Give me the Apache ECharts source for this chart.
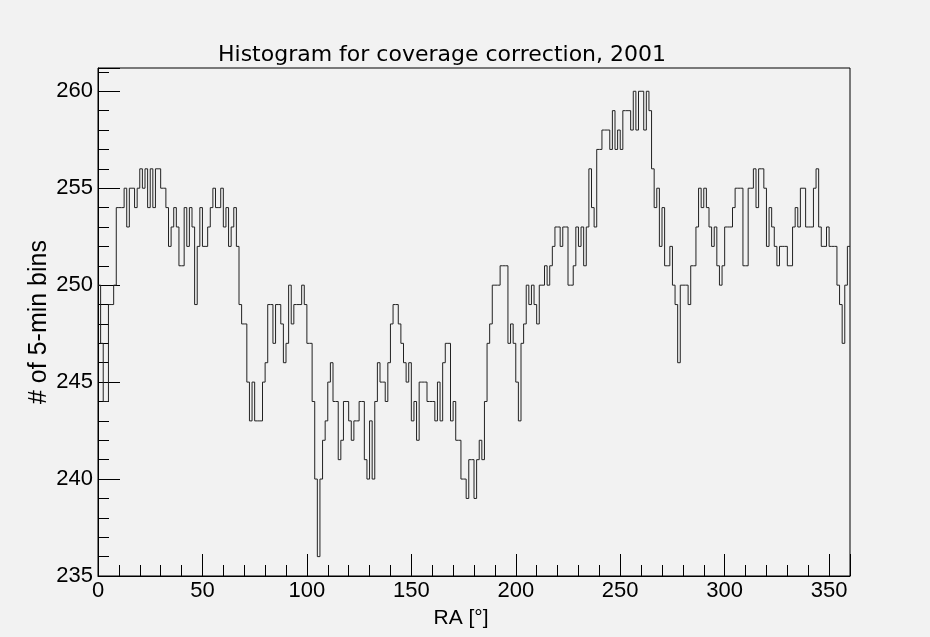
<!DOCTYPE html>
<html><head><meta charset="utf-8">
<script src="https://cdn.jsdelivr.net/npm/echarts@6/dist/echarts.min.js"></script>
<style>html,body{margin:0;padding:0;background:#f2f2f2}#c{width:930px;height:637px}</style>
</head><body><div id="c"></div>
<script>
const chartTitle = 'Histogram for coverage correction, 2001';
const xAxisName = 'RA [°]';
const yAxisName = '# of 5-min bins';
const raMin = 0, raMax = 360, nBins = 288;
const xTickStep = 50;
const yMin = 235, yMax = 261.2, yTickStep = 5;
const counts = [
  250,247,244,244,249,249,250,254,
  254,254,255,253,255,255,254,255,256,255,256,254,256,254,256,256,255,255,254,252,
  253,254,253,251,251,254,252,254,253,249,252,254,252,252,253,254,255,254,254,255,253,254,252,253,254,252,249,248,
  248,245,243,245,243,243,243,245,246,249,249,247,249,249,248,246,247,250,248,249,249,249,250,249,247,247,244,240,
  236,240,242,243,245,246,244,244,241,242,244,244,243,242,243,243,244,244,241,240,243,240,244,246,245,245,244,246,
  248,249,249,248,247,246,245,246,243,244,242,245,245,245,244,244,244,243,245,243,246,247,247,243,244,242,242,240,
  240,239,241,241,239,241,242,241,244,247,248,250,250,250,251,251,251,247,248,247,245,243,247,248,250,249,250,249,
  248,250,250,251,250,251,252,253,253,252,253,253,250,250,251,253,252,253,251,253,256,254,253,257,257,258,258,258,
  257,259,257,258,257,259,259,259,258,260,258,260,260,258,260,259,256,254,255,252,254,251,251,252,250,249,246,250,
  250,250,249,251,251,253,255,254,255,254,253,252,253,251,250,251,253,253,253,254,255,255,255,251,251,255,255,256,
  254,256,256,255,252,254,253,252,251,252,252,252,251,251,253,254,253,255,255,253,253,253,255,256,253,252,252,253,252,252,252,250,249,247,250,252
];

const binWidth = (raMax - raMin) / nBins;
const stepData = counts.map((v, i) => [raMin + i * binWidth, v]);
stepData.push([raMax, counts[counts.length - 1]]);

const font = 'Liberation Sans, Arial, sans-serif';
const chart = echarts.init(document.getElementById('c'), null, {renderer: 'canvas'});
chart.setOption({
  animation: false,
  backgroundColor: '#f2f2f2',
  title: {
    text: chartTitle, left: 213, top: 39,
    textStyle: {fontFamily: 'DejaVu Sans, sans-serif', fontSize: 22, fontWeight: 'normal', color: '#000'}
  },
  grid: {left: 98, right: 80, top: 68, bottom: 61, show: true, borderColor: '#000', borderWidth: 1, backgroundColor: 'transparent'},
  xAxis: {
    type: 'value', min: raMin, max: raMax, interval: xTickStep,
    name: xAxisName, nameLocation: 'middle', nameGap: 32, nameMoveOverlap: false,
    nameTextStyle: {fontFamily: font, fontSize: 21, color: '#000', padding: [0, 26, 0, 0]},
    axisLine: {show: true, lineStyle: {color: '#000', width: 1}},
    axisTick: {show: true, inside: true, length: 22, lineStyle: {color: '#000', width: 1}},
    minorTick: {show: true, splitNumber: 5, length: 11, lineStyle: {color: '#000', width: 1}},
    axisLabel: {fontFamily: font, fontSize: 22, color: '#000', margin: 4},
    splitLine: {show: false}
  },
  yAxis: {
    type: 'value', min: yMin, max: yMax, interval: yTickStep,
    name: yAxisName, nameLocation: 'middle', nameGap: 46, nameRotate: 90, nameMoveOverlap: false,
    nameTextStyle: {fontFamily: font, fontSize: 25, color: '#000'},
    axisLine: {show: true, lineStyle: {color: '#000', width: 1}},
    axisTick: {show: true, inside: true, length: 22, lineStyle: {color: '#000', width: 1}},
    minorTick: {show: true, splitNumber: 5, length: 11, lineStyle: {color: '#000', width: 1}},
    axisLabel: {fontFamily: font, fontSize: 22, color: '#000', margin: 5, showMaxLabel: false},
    splitLine: {show: false}
  },
  series: [{
    type: 'line', step: 'end', data: stepData, showSymbol: false, symbol: 'none',
    lineStyle: {color: '#222', width: 1}
  }]
});
</script>
</body></html>
